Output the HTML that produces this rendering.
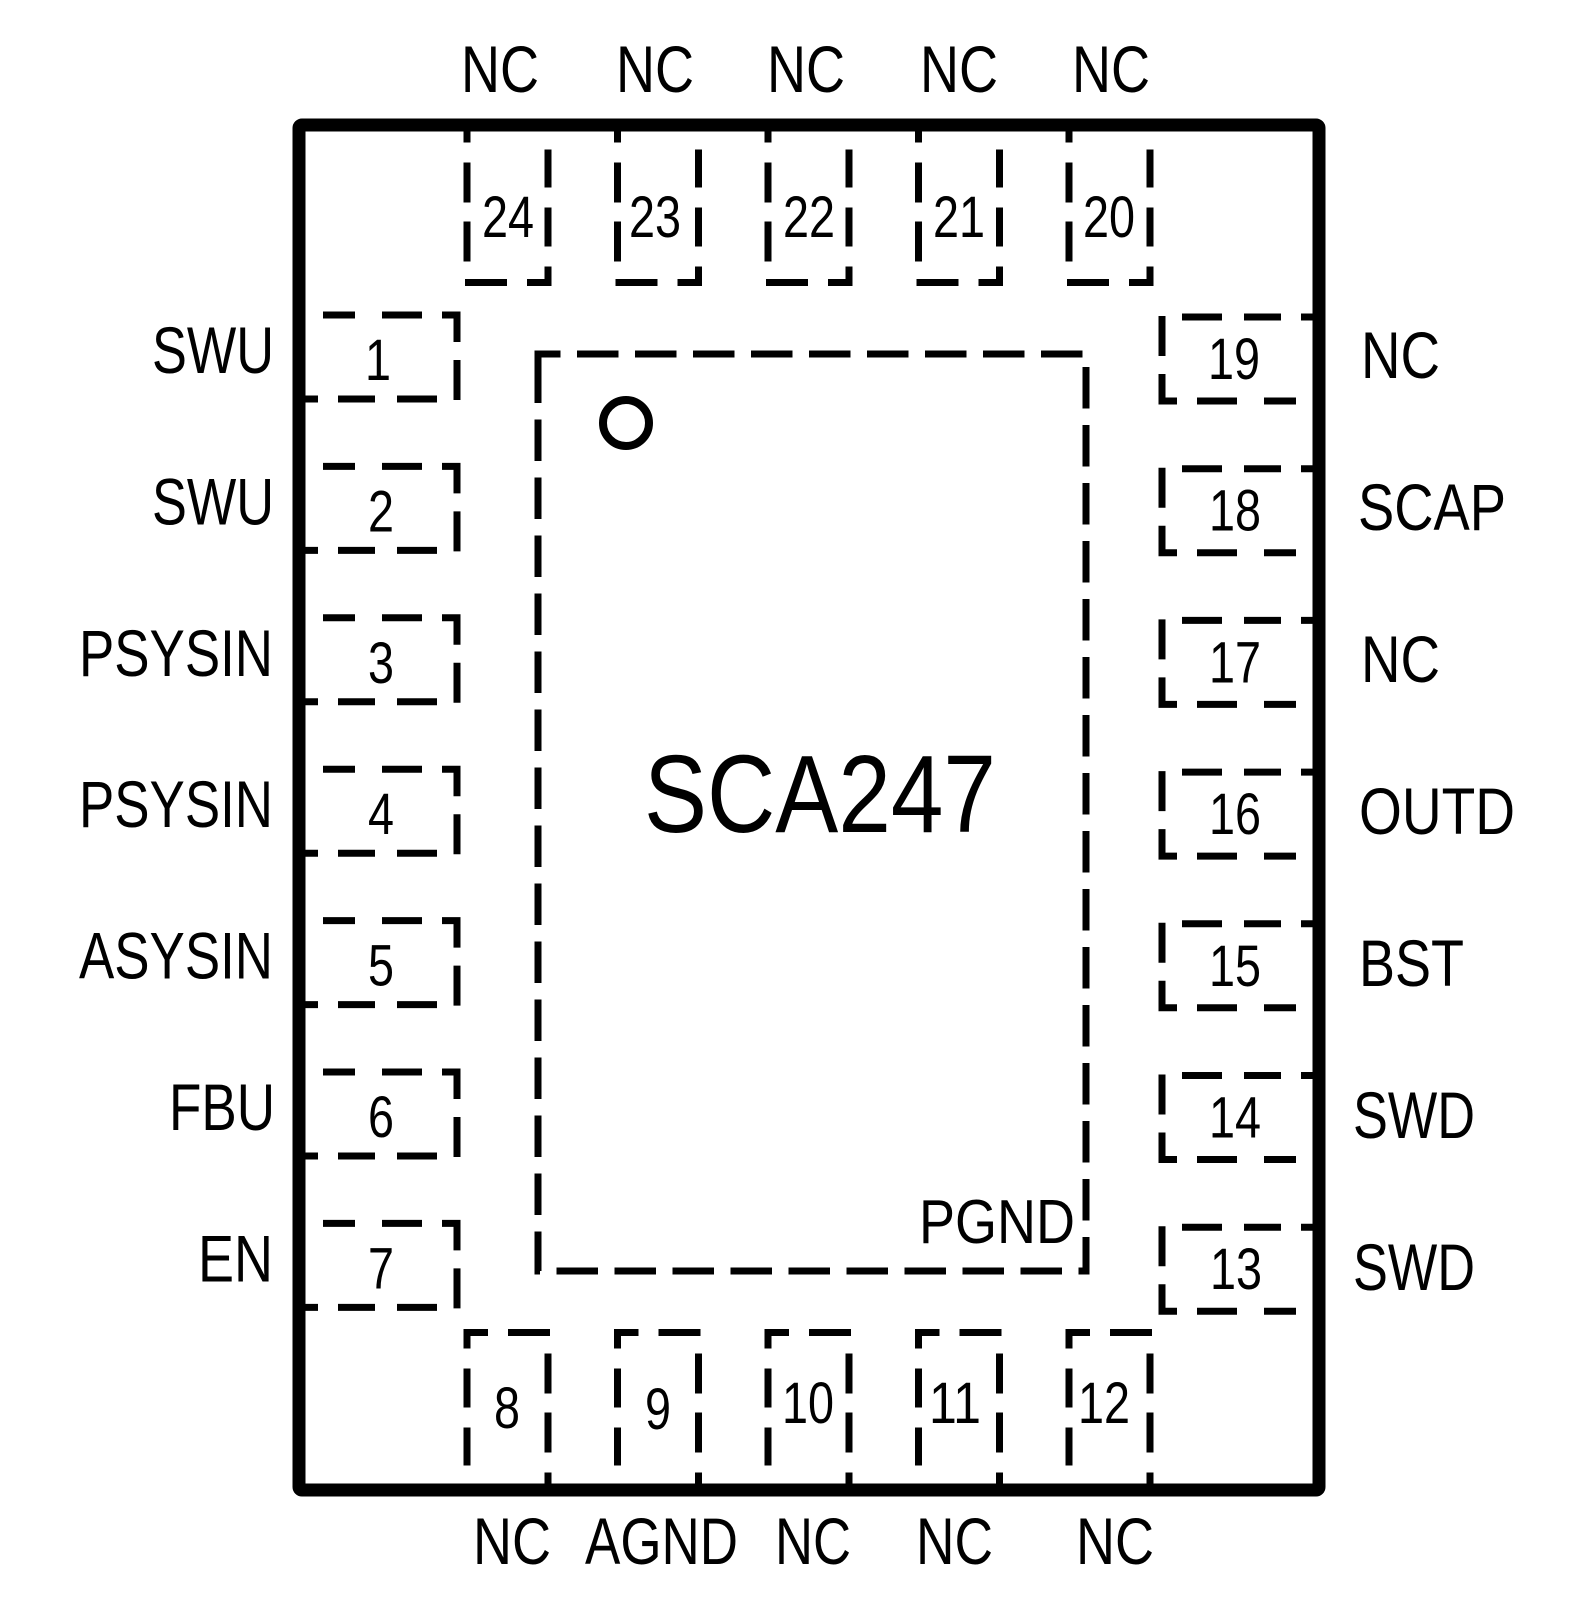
<!DOCTYPE html>
<html>
<head>
<meta charset="utf-8">
<style>
html,body{margin:0;padding:0;background:#fff;}
svg{display:block;}
text{font-family:"Liberation Sans", Arial, sans-serif;fill:#000;}
</style>
</head>
<body>
<svg width="1586" height="1600" viewBox="0 0 1586 1600" xmlns="http://www.w3.org/2000/svg">
<rect x="0" y="0" width="1586" height="1600" fill="#fff"/>
<defs>
  <g id="lb" fill="none" stroke="#000" stroke-width="7" stroke-linecap="butt" stroke-linejoin="miter">
    <path d="M18,0 H50 M77,0 H117 M137,0 H152 V27 M152,45 V85 M0,84 H13 M33,84 H70 M92,84 H132"/>
  </g>
  <g id="tb" fill="none" stroke="#000" stroke-width="7" stroke-linecap="butt" stroke-linejoin="miter">
    <path d="M4,0 V11 M4,31 V71 M4,90 V130 M85,18 V56 M85,76 V115 M85,135 V151 H64 M2,151 H44"/>
  </g>
</defs>

<!-- outer package -->
<rect x="299" y="125" width="1020" height="1365" rx="3" fill="none" stroke="#000" stroke-width="13" stroke-linejoin="round"/>

<!-- inner exposed pad -->
<path d="M538,373 V354 H1086 V1271 H538 Z" fill="none" stroke="#000" stroke-width="7" stroke-dasharray="41.5 16.5"/>

<!-- pin 1 marker -->
<circle cx="626" cy="423" r="23" fill="none" stroke="#000" stroke-width="8"/>

<!-- left pins -->
<use href="#lb" transform="translate(305,315)"/>
<use href="#lb" transform="translate(305,466.4)"/>
<use href="#lb" transform="translate(305,617.8)"/>
<use href="#lb" transform="translate(305,769.2)"/>
<use href="#lb" transform="translate(305,920.6)"/>
<use href="#lb" transform="translate(305,1072)"/>
<use href="#lb" transform="translate(305,1223.4)"/>

<!-- right pins -->
<use href="#lb" transform="translate(1314,401) scale(-1,-1)"/>
<use href="#lb" transform="translate(1314,552.7) scale(-1,-1)"/>
<use href="#lb" transform="translate(1314,704.4) scale(-1,-1)"/>
<use href="#lb" transform="translate(1314,856.1) scale(-1,-1)"/>
<use href="#lb" transform="translate(1314,1007.8) scale(-1,-1)"/>
<use href="#lb" transform="translate(1314,1159.5) scale(-1,-1)"/>
<use href="#lb" transform="translate(1314,1311.2) scale(-1,-1)"/>

<!-- top pins -->
<use href="#tb" transform="translate(463,131.5)"/>
<use href="#tb" transform="translate(613.5,131.5)"/>
<use href="#tb" transform="translate(764,131.5)"/>
<use href="#tb" transform="translate(914.5,131.5)"/>
<use href="#tb" transform="translate(1065,131.5)"/>

<!-- bottom pins -->
<use href="#tb" transform="translate(552,1483.5) scale(-1,-1)"/>
<use href="#tb" transform="translate(702.5,1483.5) scale(-1,-1)"/>
<use href="#tb" transform="translate(853,1483.5) scale(-1,-1)"/>
<use href="#tb" transform="translate(1003.5,1483.5) scale(-1,-1)"/>
<use href="#tb" transform="translate(1154,1483.5) scale(-1,-1)"/>

<!-- chip name -->
<text x="644" y="832" font-size="110" textLength="352" lengthAdjust="spacingAndGlyphs">SCA247</text>
<text x="919" y="1243" font-size="62" textLength="156" lengthAdjust="spacingAndGlyphs">PGND</text>

<!-- top labels -->
<g font-size="66">
<text x="461" y="92" textLength="78" lengthAdjust="spacingAndGlyphs">NC</text>
<text x="616" y="92" textLength="78" lengthAdjust="spacingAndGlyphs">NC</text>
<text x="767" y="92" textLength="78" lengthAdjust="spacingAndGlyphs">NC</text>
<text x="920" y="92" textLength="78" lengthAdjust="spacingAndGlyphs">NC</text>
<text x="1072" y="92" textLength="78" lengthAdjust="spacingAndGlyphs">NC</text>
</g>

<!-- bottom labels -->
<g font-size="66">
<text x="473" y="1564" textLength="78" lengthAdjust="spacingAndGlyphs">NC</text>
<text x="585" y="1564" textLength="153" lengthAdjust="spacingAndGlyphs">AGND</text>
<text x="775" y="1564" textLength="76" lengthAdjust="spacingAndGlyphs">NC</text>
<text x="916" y="1564" textLength="77" lengthAdjust="spacingAndGlyphs">NC</text>
<text x="1076" y="1564" textLength="78" lengthAdjust="spacingAndGlyphs">NC</text>
</g>

<!-- left labels -->
<g font-size="66">
<text x="152" y="373" textLength="122" lengthAdjust="spacingAndGlyphs">SWU</text>
<text x="152" y="524.4" textLength="122" lengthAdjust="spacingAndGlyphs">SWU</text>
<text x="79" y="675.8" textLength="194" lengthAdjust="spacingAndGlyphs">PSYSIN</text>
<text x="79" y="827.2" textLength="194" lengthAdjust="spacingAndGlyphs">PSYSIN</text>
<text x="79" y="978.6" textLength="194" lengthAdjust="spacingAndGlyphs">ASYSIN</text>
<text x="169" y="1130" textLength="106" lengthAdjust="spacingAndGlyphs">FBU</text>
<text x="198" y="1281.4" textLength="75" lengthAdjust="spacingAndGlyphs">EN</text>
</g>

<!-- right labels -->
<g font-size="66">
<text x="1361" y="378" textLength="79" lengthAdjust="spacingAndGlyphs">NC</text>
<text x="1358" y="530" textLength="148" lengthAdjust="spacingAndGlyphs">SCAP</text>
<text x="1361" y="682" textLength="79" lengthAdjust="spacingAndGlyphs">NC</text>
<text x="1359" y="834" textLength="156" lengthAdjust="spacingAndGlyphs">OUTD</text>
<text x="1359" y="986" textLength="105" lengthAdjust="spacingAndGlyphs">BST</text>
<text x="1353" y="1138" textLength="122" lengthAdjust="spacingAndGlyphs">SWD</text>
<text x="1353" y="1290" textLength="122" lengthAdjust="spacingAndGlyphs">SWD</text>
</g>

<!-- pin numbers left -->
<g font-size="58" text-anchor="middle">
<text x="378" y="380" textLength="26" lengthAdjust="spacingAndGlyphs">1</text>
<text x="381" y="531.4" textLength="26" lengthAdjust="spacingAndGlyphs">2</text>
<text x="381" y="682.8" textLength="26" lengthAdjust="spacingAndGlyphs">3</text>
<text x="381" y="834.2" textLength="26" lengthAdjust="spacingAndGlyphs">4</text>
<text x="381" y="985.6" textLength="26" lengthAdjust="spacingAndGlyphs">5</text>
<text x="381" y="1137" textLength="26" lengthAdjust="spacingAndGlyphs">6</text>
<text x="381" y="1288.4" textLength="26" lengthAdjust="spacingAndGlyphs">7</text>
</g>

<!-- pin numbers right -->
<g font-size="58" text-anchor="middle">
<text x="1234" y="379" textLength="52" lengthAdjust="spacingAndGlyphs">19</text>
<text x="1235" y="530.7" textLength="52" lengthAdjust="spacingAndGlyphs">18</text>
<text x="1235" y="682.4" textLength="52" lengthAdjust="spacingAndGlyphs">17</text>
<text x="1235" y="834.1" textLength="52" lengthAdjust="spacingAndGlyphs">16</text>
<text x="1235" y="985.8" textLength="52" lengthAdjust="spacingAndGlyphs">15</text>
<text x="1235" y="1137.5" textLength="52" lengthAdjust="spacingAndGlyphs">14</text>
<text x="1236" y="1289" textLength="52" lengthAdjust="spacingAndGlyphs">13</text>
</g>

<!-- pin numbers top -->
<g font-size="58" text-anchor="middle">
<text x="508" y="237" textLength="52" lengthAdjust="spacingAndGlyphs">24</text>
<text x="655" y="237" textLength="52" lengthAdjust="spacingAndGlyphs">23</text>
<text x="809" y="237" textLength="52" lengthAdjust="spacingAndGlyphs">22</text>
<text x="959" y="237" textLength="52" lengthAdjust="spacingAndGlyphs">21</text>
<text x="1109" y="237" textLength="52" lengthAdjust="spacingAndGlyphs">20</text>
</g>

<!-- pin numbers bottom -->
<g font-size="58" text-anchor="middle">
<text x="507" y="1428" textLength="26" lengthAdjust="spacingAndGlyphs">8</text>
<text x="658" y="1429" textLength="26" lengthAdjust="spacingAndGlyphs">9</text>
<text x="808" y="1423" textLength="52" lengthAdjust="spacingAndGlyphs">10</text>
<text x="955" y="1423" textLength="52" lengthAdjust="spacingAndGlyphs">11</text>
<text x="1104" y="1423" textLength="52" lengthAdjust="spacingAndGlyphs">12</text>
</g>
</svg>
</body>
</html>
